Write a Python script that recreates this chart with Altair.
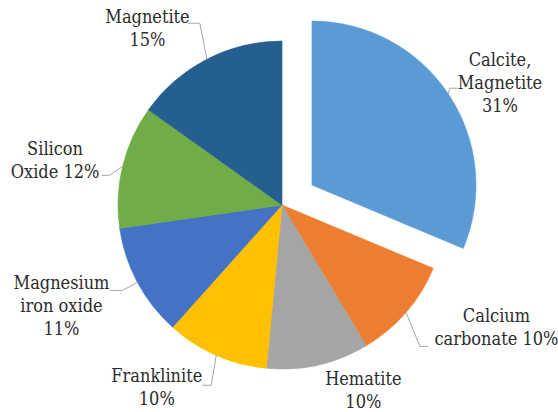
import math
import altair as alt
import pandas as pd

# ---- data ----
categories = ["Calcite, Magnetite", "Calcium carbonate", "Hematite", "Franklinite",
              "Magnesium iron oxide", "Silicon Oxide", "Magnetite"]
shares = [31, 10, 10, 10, 11, 12, 15]
label_lines = [["Calcite,", "Magnetite"], ["Calcium", "carbonate"], ["Hematite"], ["Franklinite"],
               ["Magnesium", "iron oxide"], ["Silicon", "Oxide"], ["Magnetite"]]
pct_on_new_line = [True, False, True, True, True, False, True]
colors = ["#5B9BD5", "#ED7D31", "#A5A5A5", "#FFC000", "#4472C4", "#70AD47", "#255E91"]
exploded = "Calcite, Magnetite"

# ---- layout (pixels) ----
W, H = 558, 412
CX, CY, R = 282, 205, 164
EXPLODE = 36
LABEL_R = 215
LINE_H = 23
FONT = "DejaVu Serif Condensed, DejaVu Serif"
label_nudge = [(9, 18), (52, -17), (34, -23), (-39, -13), (-31, 0), (-18, 7), (-36, 16)]
leader_pts = [[(1, -6), (9, -6)], [(14, 34), (22, 34)], None, [(-5, 30), (-14, 30)],
              [(-15, 8), (-27, 8)], [(-13, 9), (-21, 9)], [(-7, -36), (-19, -36)]]

total = sum(shares)
cum = 0
mids = []
for s in shares:
    mids.append((cum + s / 2) / total * 2 * math.pi)
    cum += s

ex_i = categories.index(exploded)
ex_dx = EXPLODE * math.sin(mids[ex_i])
ex_dy = -EXPLODE * math.cos(mids[ex_i])

df = pd.DataFrame({"order": list(range(len(categories))), "category": categories, "share": shares})

color_scale = alt.Scale(domain=categories, range=colors)
theta_scale = alt.Scale(domain=[0, total], range=[0, 2 * math.pi])

base = alt.Chart(df).transform_window(
    cum="sum(share)", sort=[alt.SortField("order")], frame=[None, 0]
).transform_calculate(start="datum.cum - datum.share")


def arcs(test, x, y):
    return base.transform_filter(test).mark_arc(radius=R, strokeWidth=0.6).encode(
        theta=alt.Theta("start:Q", scale=theta_scale),
        theta2="cum:Q",
        color=alt.Color("category:N", scale=color_scale, legend=None),
        stroke=alt.Stroke("category:N", scale=color_scale, legend=None),
        x=alt.value(x), y=alt.value(y),
    )

main_arcs = arcs(alt.datum.category != exploded, CX, CY)
ex_arcs = arcs(alt.datum.category == exploded, CX + ex_dx, CY + ex_dy)

# labels
lab_rows = []
for i, c in enumerate(categories):
    cx = CX + (ex_dx if c == exploded else 0)
    cy = CY + (ex_dy if c == exploded else 0)
    pct = f"{shares[i]}%"
    lines = list(label_lines[i])
    if pct_on_new_line[i]:
        lines.append(pct)
    else:
        lines[-1] = lines[-1] + " " + pct
    lab_rows.append({
        "category": c,
        "text": "\n".join(lines),
        "lx": cx + LABEL_R * math.sin(mids[i]) + label_nudge[i][0],
        # anchor is the first line; shift so the text block is centred
        "ly": cy - LABEL_R * math.cos(mids[i]) + label_nudge[i][1] - (len(lines) - 1) * LINE_H / 2,
    })
lab_df = pd.DataFrame(lab_rows)

labels = alt.Chart(lab_df).mark_text(
    lineBreak="\n", align="center", baseline="middle",
    font=FONT, fontSize=18, lineHeight=LINE_H, color="#2b2b2b"
).encode(
    x=alt.X("lx:Q", scale=None), y=alt.Y("ly:Q", scale=None), text="text:N"
)

# leader lines
lead_rows = []
for i, c in enumerate(categories):
    if leader_pts[i] is None:
        continue
    cx = CX + (ex_dx if c == exploded else 0)
    cy = CY + (ex_dy if c == exploded else 0)
    rx = cx + R * math.sin(mids[i])
    ry = cy - R * math.cos(mids[i])
    lead_rows.append({"category": c, "step": 0, "px": rx, "py": ry})
    for k, (ox, oy) in enumerate(leader_pts[i]):
        lead_rows.append({"category": c, "step": k + 1, "px": rx + ox, "py": ry + oy})
lead_df = pd.DataFrame(lead_rows)

leaders = alt.Chart(lead_df).mark_line(color="#A6A6A6", strokeWidth=1).encode(
    x=alt.X("px:Q", scale=None), y=alt.Y("py:Q", scale=None),
    detail="category:N", order="step:Q"
)

chart = alt.layer(main_arcs, ex_arcs, leaders, labels).properties(
    width=W, height=H, padding=0, autosize="none", background="white"
).configure_view(stroke=None)

chart.save("out.html", embed_options={"renderer": "svg", "actions": False})
